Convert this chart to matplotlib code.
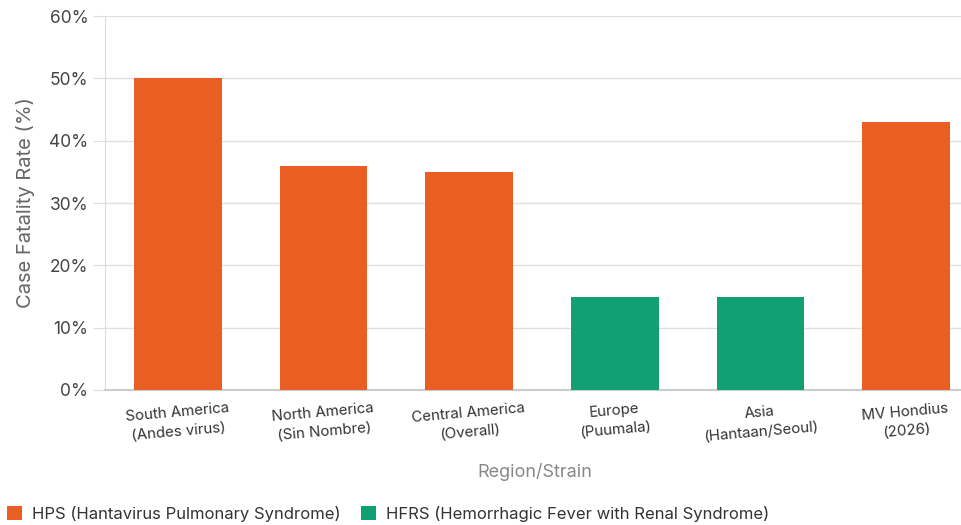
import matplotlib
matplotlib.use("Agg")
import matplotlib.pyplot as plt
from matplotlib.patches import Patch

categories = ["South America\n(Andes virus)", "North America\n(Sin Nombre)",
              "Central America\n(Overall)", "Europe\n(Puumala)",
              "Asia\n(Hantaan/Seoul)", "MV Hondius\n(2026)"]
cfr_values = [50, 36, 35, 15, 15, 43]
syndrome = ["HPS", "HPS", "HPS", "HFRS", "HFRS", "HPS"]
y_ticks = [0, 10, 20, 30, 40, 50, 60]

colors = {"HPS": "#E95E22", "HFRS": "#11A073"}
legend_labels = {"HPS": "HPS (Hantavirus Pulmonary Syndrome)",
                 "HFRS": "HFRS (Hemorrhagic Fever with Renal Syndrome)"}

plt.rcParams["font.family"] = ["Inter", "DejaVu Sans"]

fig = plt.figure(figsize=(9.61, 5.25), dpi=100)
ax = fig.add_axes([105 / 961, 135 / 525, 874 / 961, 374 / 525])

x = list(range(len(categories)))
ax.bar(x, cfr_values, width=0.6, color=[colors[s] for s in syndrome], zorder=3)

ax.set_xlim(-0.5, len(categories) - 0.5)
ax.set_ylim(0, 60)
ax.set_yticks(y_ticks)
ax.set_yticklabels([f"{v}%" for v in y_ticks], fontsize=12.5, color="#444444")
ax.set_xticks(x)
ax.set_xticklabels(categories, fontsize=10.8, color="#333333", rotation=5,
                   ha="center", linespacing=1.45)
ax.tick_params(axis="x", length=0, pad=8)
ax.tick_params(axis="y", length=9, color="#dddddd", pad=3)

ax.grid(axis="y", color="#e0e0e0", linewidth=1, zorder=0)
for side in ["top", "right"]:
    ax.spines[side].set_visible(False)
ax.spines["left"].set_color("#dddddd")
ax.spines["bottom"].set_color("#cccccc")
ax.spines["bottom"].set_linewidth(1.5)

ax.set_ylabel("Case Fatality Rate (%)", fontsize=14.5, color="#666666", labelpad=10)
ax.set_xlabel("Region/Strain", fontsize=13, color="#888888")
ax.xaxis.set_label_coords((535 - 105) / 874, -(472 - 390) / 374, transform=ax.transAxes)
ax.xaxis.label.set_va("center")

handles = [Patch(facecolor=colors[k], label=legend_labels[k]) for k in ["HPS", "HFRS"]]
fig.legend(handles=handles, loc="lower left", bbox_to_anchor=(-0.008, -0.022), ncol=2,
           frameon=False, fontsize=12, handlelength=0.9, handleheight=0.9,
           handletextpad=0.6, columnspacing=1.2, labelcolor="#333333")

fig.savefig("out.png", dpi=100, facecolor="white")
